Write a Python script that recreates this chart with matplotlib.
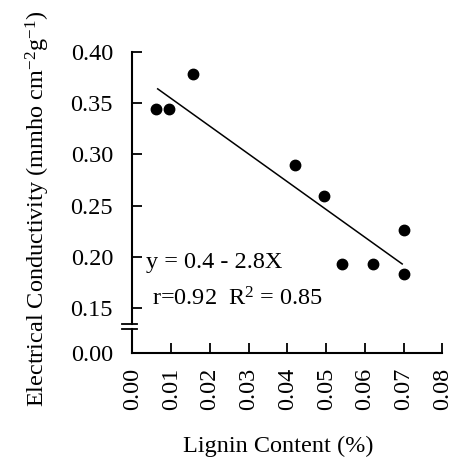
import numpy as np
import matplotlib
matplotlib.use("Agg")
import matplotlib.pyplot as plt

plt.rcParams['font.family'] = ['Liberation Serif', 'DejaVu Serif']
plt.rcParams['mathtext.fontset'] = 'custom'
plt.rcParams['mathtext.rm'] = 'Liberation Serif'
plt.rcParams['mathtext.it'] = 'Liberation Serif:italic'

# data
lignin = [0.006, 0.0093, 0.0157, 0.042, 0.0495, 0.054, 0.062, 0.070, 0.070]
conductivity = [0.344, 0.344, 0.379, 0.290, 0.259, 0.193, 0.193, 0.226, 0.183]
trend_x = [0.0065, 0.0696]
trend_y = [0.364, 0.193]
x_ticks = [0.00, 0.01, 0.02, 0.03, 0.04, 0.05, 0.06, 0.07, 0.08]
y_ticks = [0.00, 0.15, 0.20, 0.25, 0.30, 0.35, 0.40]

# broken axis: squeeze 0.00-0.15 into a small band
k = 0.293
def fwd(y):
    y = np.asarray(y, dtype=float)
    return np.where(y >= 0.15, y, 0.15 - (0.15 - y) * k)
def inv(v):
    v = np.asarray(v, dtype=float)
    return np.where(v >= 0.15, v, 0.15 - (0.15 - v) / k)

fs = 17.5

fig = plt.figure(figsize=(4.55, 4.61), dpi=100)
ax = fig.add_axes([0.2912, 0.2343, 0.6813, 0.6529])
ax.set_yscale('function', functions=(fwd, inv))

ax.plot(lignin, conductivity, 'o', color='black', markersize=7.5, zorder=3)
ax.plot(trend_x, trend_y, '-', color='black', linewidth=1.1)

ax.set_xlim(0, 0.08)
ax.set_ylim(0, 0.40)
ax.set_xticks(x_ticks)
ax.set_xticklabels([f"{t:.2f}" for t in x_ticks], rotation=90)
ax.set_yticks(y_ticks)
ax.set_yticklabels([f"{t:.2f}" for t in y_ticks])
ax.yaxis.set_minor_locator(matplotlib.ticker.NullLocator())

ax.tick_params(axis='x', direction='in', length=7, width=1.3, pad=10.5, labelsize=fs)
ax.tick_params(axis='y', direction='in', length=7, width=1.3, pad=14, labelsize=fs)

for s in ['top', 'right', 'left']:
    ax.spines[s].set_visible(False)
ax.spines['bottom'].set_linewidth(1.5)

# left spine with a break
ax.plot([0, 0], [0, 0.0797], transform=ax.transAxes, color='black', lw=1.5, clip_on=False)
ax.plot([0, 0], [0.0963, 1], transform=ax.transAxes, color='black', lw=1.5, clip_on=False)
for yb in [0.0797, 0.0963]:
    ax.plot([-0.035, 0.016], [yb, yb], transform=ax.transAxes, color='black', lw=1.3, clip_on=False)

ax.text(0.045, 0.299, "y = 0.4 - 2.8X", transform=ax.transAxes, fontsize=fs, ha='left', va='center')
ax.text(0.064, 0.179, "r=0.92  R$^2$ = 0.85", transform=ax.transAxes, fontsize=fs, ha='left', va='center')

ax.set_xlabel("Lignin Content (%)", fontsize=fs)
ax.xaxis.set_label_coords(0.47, -0.31)
ax.xaxis.label.set_va('center')
ax.set_ylabel("Electrical Conductivity (mmho cm$^{-2}$g$^{-1}$)", fontsize=fs)
ax.yaxis.set_label_coords(-0.305, 0.48)
ax.yaxis.label.set_va('center')

fig.savefig("out.png", dpi=100)
